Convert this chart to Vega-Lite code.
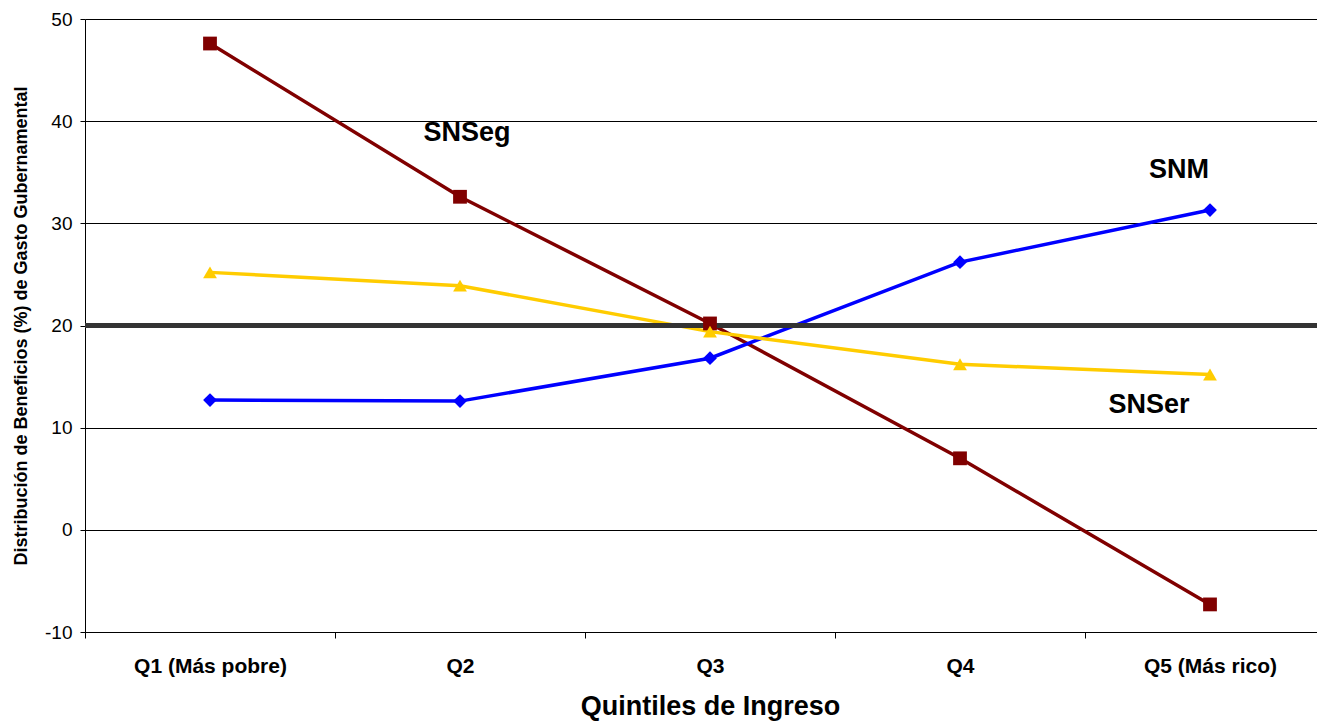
{
  "$schema": "https://vega.github.io/schema/vega-lite/v6.json",
  "width": 1250,
  "height": 613,
  "autosize": "none",
  "padding": {"left": 85, "top": 19, "right": 0, "bottom": 92},
  "background": "white",
  "config": {
    "font": "Liberation Sans",
    "view": {"stroke": null}
  },
  "datasets": {
    "series": [
      {"quintil": "Q1 (Más pobre)", "serie": "SNSeg", "valor": 47.6},
      {"quintil": "Q2", "serie": "SNSeg", "valor": 32.6},
      {"quintil": "Q3", "serie": "SNSeg", "valor": 20.2},
      {"quintil": "Q4", "serie": "SNSeg", "valor": 7.0},
      {"quintil": "Q5 (Más rico)", "serie": "SNSeg", "valor": -7.3},
      {"quintil": "Q1 (Más pobre)", "serie": "SNM", "valor": 12.7},
      {"quintil": "Q2", "serie": "SNM", "valor": 12.6},
      {"quintil": "Q3", "serie": "SNM", "valor": 16.8},
      {"quintil": "Q4", "serie": "SNM", "valor": 26.2},
      {"quintil": "Q5 (Más rico)", "serie": "SNM", "valor": 31.3},
      {"quintil": "Q1 (Más pobre)", "serie": "SNSer", "valor": 25.2},
      {"quintil": "Q2", "serie": "SNSer", "valor": 23.9},
      {"quintil": "Q3", "serie": "SNSer", "valor": 19.4},
      {"quintil": "Q4", "serie": "SNSer", "valor": 16.2},
      {"quintil": "Q5 (Más rico)", "serie": "SNSer", "valor": 15.2}
    ]
  },
  "encoding": {
    "x": {
      "field": "quintil",
      "type": "nominal",
      "sort": ["Q1 (Más pobre)", "Q2", "Q3", "Q4", "Q5 (Más rico)"],
      "scale": {"type": "band", "paddingInner": 0, "paddingOuter": 0},
      "axis": {
        "title": "Quintiles de Ingreso",
        "titleFontSize": 27,
        "titleFontWeight": "bold",
        "titleColor": "black",
        "titlePadding": 17,
        "labelFontSize": 21,
        "labelFontWeight": "bold",
        "labelColor": "black",
        "labelAngle": 0,
        "labelPadding": 17,
        "tickBand": "extent",
        "tickSize": 6,
        "tickColor": "black",
        "domainColor": "black",
        "grid": false
      }
    },
    "y": {
      "field": "valor",
      "type": "quantitative",
      "scale": {"domain": [-10, 50], "nice": false},
      "axis": {
        "title": "Distribución de Beneficios (%) de Gasto Gubernamental",
        "titleFontSize": 18,
        "titleFontWeight": "bold",
        "titleColor": "black",
        "titlePadding": 14,
        "values": [-10, 0, 10, 20, 30, 40, 50],
        "labelExpr": "toString(datum.value)",
        "labelFontSize": 19,
        "labelColor": "black",
        "labelPadding": 8,
        "tickSize": 5,
        "tickColor": "black",
        "domainColor": "black",
        "grid": true,
        "gridColor": "black",
        "gridOpacity": 1,
        "gridWidth": 1
      }
    }
  },
  "layer": [
    {
      "data": {"name": "series"},
      "mark": {"type": "line", "strokeWidth": 3.5},
      "encoding": {
        "color": {
          "field": "serie",
          "type": "nominal",
          "scale": {"domain": ["SNSeg", "SNM", "SNSer"], "range": ["#800000", "#0000FF", "#FFCC00"]},
          "legend": null
        },
        "detail": {"field": "serie"}
      }
    },
    {
      "data": {"values": [{"ref": 20}]},
      "mark": {"type": "rule", "strokeWidth": 5, "color": "#333333"},
      "encoding": {
        "x": null,
        "y": {"field": "ref", "type": "quantitative"}
      }
    },
    {
      "data": {"name": "series"},
      "mark": {"type": "point", "filled": true, "opacity": 1, "size": 190},
      "encoding": {
        "color": {
          "field": "serie",
          "type": "nominal",
          "scale": {"domain": ["SNSeg", "SNM", "SNSer"], "range": ["#800000", "#0000FF", "#FFCC00"]},
          "legend": null
        },
        "shape": {
          "field": "serie",
          "type": "nominal",
          "scale": {"domain": ["SNSeg", "SNM", "SNSer"], "range": ["square", "diamond", "triangle-up"]},
          "legend": null
        }
      }
    },
    {
      "data": {"values": [{"quintil": "Q2", "serie": "SNSeg", "valor": 38.8}]},
      "mark": {"type": "text", "fontSize": 27, "fontWeight": "bold", "color": "black", "align": "center", "baseline": "middle", "dx": 7},
      "encoding": {"text": {"field": "serie"}}
    },
    {
      "data": {"values": [{"quintil": "Q5 (Más rico)", "serie": "SNM", "valor": 35.2}]},
      "mark": {"type": "text", "fontSize": 27, "fontWeight": "bold", "color": "black", "align": "center", "baseline": "middle", "dx": -31},
      "encoding": {"text": {"field": "serie"}}
    },
    {
      "data": {"values": [{"quintil": "Q5 (Más rico)", "serie": "SNSer", "valor": 12.2}]},
      "mark": {"type": "text", "fontSize": 27, "fontWeight": "bold", "color": "black", "align": "center", "baseline": "middle", "dx": -61},
      "encoding": {"text": {"field": "serie"}}
    }
  ]
}
